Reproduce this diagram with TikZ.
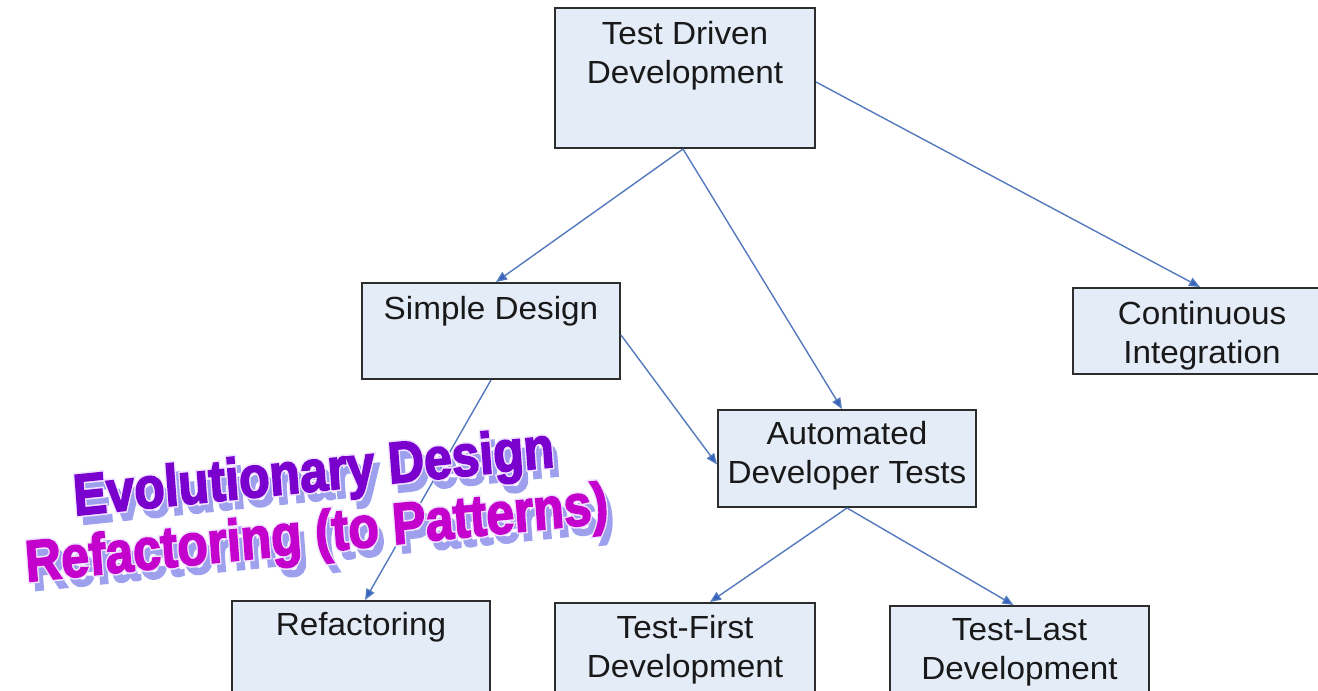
\documentclass[tikz,border=0pt]{standalone}
\usepackage{fontspec}
\setmainfont{Liberation Sans}[FakeStretch=1.04]
\newfontfamily\wafont{Liberation Sans}
\usetikzlibrary{arrows.meta}
\definecolor{boxfill}{RGB}{228,236,248}
\definecolor{boxline}{RGB}{45,45,45}
\definecolor{arr}{RGB}{84,122,190}
\definecolor{arrtip}{RGB}{52,96,192}
\definecolor{waone}{RGB}{122,0,206}
\definecolor{watwo}{RGB}{196,0,204}
\definecolor{washadow}{RGB}{158,160,238}
\newcommand\wastroke[3]{\special{pdf:literal direct #1 Tr #2 w #3 RG}}
\newcommand\wareset{\special{pdf:literal direct 0 Tr}}
\begin{document}
\begin{tikzpicture}[x=1pt,y=-1pt,
  box/.style={draw=boxline, line width=2pt, fill=boxfill, inner sep=0pt},
  lbl/.style={anchor=north, align=center, inner sep=0pt,
    font=\fontsize{32}{39}\selectfont, text=black!90},
  conn/.style={draw=arr, line width=1.4pt,
    -{Triangle[length=11pt,width=9pt,fill=arrtip]}},
  wa/.style={font=\wafont\fontsize{58}{58}\selectfont\bfseries, inner sep=0pt,
    anchor=base, xscale=0.86, rotate=5}]
\fill[white] (0,0) rectangle (1318,691);
\useasboundingbox (0,0) rectangle (1318,691);

% boxes
\node[box, minimum width=260pt, minimum height=140pt] (tdd) at (685,78) {};
\node[box, minimum width=258pt, minimum height=96pt] (sd) at (491,331) {};
\node[box, minimum width=258pt, minimum height=86pt] (ci) at (1202,331) {};
\node[box, minimum width=258pt, minimum height=97pt] (adt) at (847,458.5) {};
\node[box, minimum width=258pt, minimum height=100pt] (ref) at (361,651) {};
\node[box, minimum width=260pt, minimum height=100pt] (tf) at (685,653) {};
\node[box, minimum width=259pt, minimum height=100pt] (tl) at (1019.5,656) {};

% labels
\node[lbl] (tddt) at ([yshift=-14pt]tdd.north) {Test Driven\\Development};
\node[lbl] (sdt) at ([yshift=-14pt]sd.north) {Simple Design};
\node[lbl] (cit) at ([yshift=-14pt]ci.north) {Continuous\\Integration};
\node[lbl] (adtt) at ([yshift=-12pt]adt.north) {Automated\\Developer Tests};
\node[lbl] (reft) at ([yshift=-12pt]ref.north) {Refactoring};
\node[lbl] (tft) at ([yshift=-13pt]tf.north) {Test-First\\Development};
\node[lbl] (tlt) at ([yshift=-13pt]tl.north) {Test-Last\\Development};

% connectors
\draw[conn] ([xshift=-2pt]tdd.south) -- ([xshift=5pt]sd.north);
\draw[conn] ([xshift=-2pt]tdd.south) -- ([xshift=-5pt]adt.north);
\draw[conn] ([yshift=-4pt]tdd.east) -- ([xshift=-2pt]ci.north);
\draw[conn] (sd.south) -- ([xshift=4pt]ref.north);
\draw[conn] ([yshift=-4pt]sd.east) -- ([yshift=-6pt]adt.west);
\draw[conn] (adt.south) -- ([xshift=25pt]tf.north);
\draw[conn] (adt.south) -- ([xshift=-6pt]tl.north);

% word art: shadow, pale rim, heavy fill
\node[wa, text=washadow] (wa1s) at (321,500) {\wastroke{2}{2}{0.62 0.63 0.93}Evolutionary Design\wareset};
\node[wa, text=washadow] (wa2s) at (324,561) {\wastroke{2}{2}{0.62 0.63 0.93}Refactoring (to Patterns)\wareset};
\node[wa, text=waone] (wa1r) at (315,491) {\wastroke{2}{5}{0.94 0.89 1}Evolutionary Design\wareset};
\node[wa, text=watwo] (wa2r) at (318,552) {\wastroke{2}{5}{0.94 0.89 1}Refactoring (to Patterns)\wareset};
\node[wa, text=waone] (wa1) at (315,491) {\wastroke{2}{1.8}{0.478 0 0.808}Evolutionary Design\wareset};
\node[wa, text=watwo] (wa2) at (318,552) {\wastroke{2}{1.8}{0.769 0 0.8}Refactoring (to Patterns)\wareset};
\end{tikzpicture}
\end{document}
